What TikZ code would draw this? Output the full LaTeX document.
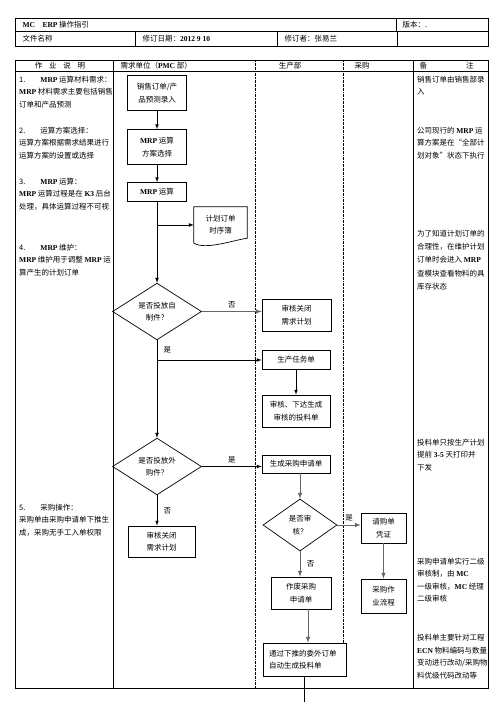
\documentclass[tikz,border=0pt]{standalone}
\usepackage{fontspec}
\setmainfont{Noto Sans CJK SC}
\newfontfamily\latinfont{Liberation Serif}
\usepackage{tikz}
\usetikzlibrary{arrows}
\usetikzlibrary{shapes.geometric,calc}

\newcommand{\en}[1]{{\latinfont\bfseries #1}}

\tikzset{
  box/.style={draw, line width=0.7pt, align=center, inner sep=0pt},
  dia/.style={draw, diamond, line width=0.7pt, align=center, inner sep=0pt},
  flow/.style={->, line width=0.7pt},
  flowg/.style={->, line width=1pt, draw=black!60},
  lane/.style={line width=0.6pt, dash pattern=on 2pt off 0.8pt on 0.6pt off 0.8pt},
  para/.style={anchor=north west, align=left, inner sep=0pt}
}

\begin{document}
\begin{tikzpicture}[x=1pt, y=-1pt, >=latex, font=\fontsize{7.5}{12.3}\selectfont]
        \useasboundingbox (0,0) rectangle (496,702);

        % header of the sheet
        \draw[line width=0.7pt] (15,18) rectangle (488,46);
        \draw (15,31) -- (488,31);
        \draw (396,18) -- (396,31);
        \draw (135,31) -- (135,46);
        \draw (277,31) -- (277,46);
        \draw (397,31) -- (397,46);
        \node[anchor=west] (title) at (19,25) {\en{MC\quad ERP} 操作指引};
        \node[anchor=west] (ver) at (399,25) {版本：.};
        \node[anchor=west] (fname) at (19,38.5) {文件名称};
        \node[anchor=west] (date) at (139,38.5) {修订日期：\en{2012 9 10}};
        \node[anchor=west] (editor) at (281,38.5) {修订者：张易兰};

        % main table
        \draw[line width=0.8pt] (15,60) rectangle (488,688);
        \draw (15,71) -- (488,71);
        \draw (113,60) -- (113,688);
        \draw (413,60) -- (413,688);
        \draw[lane] (255,60) -- (255,688);
        \draw[lane] (343,60) -- (343,643);

        \node (hdesc) at (60,65.5) {作\hspace{0.9em}业\hspace{0.9em}说\hspace{0.9em}明};
        \node[anchor=west] (hpmc) at (117,65.5) {需求单位（\en{PMC} 部）};
        \node (hprod) at (290,65.5) {生产部};
        \node (hbuy) at (362,65.5) {采购};
        \node (hnote) at (446.5,65.5) {备\hspace{5.2em}注};

        % left column
        \node[para] (s1) at (19,76) {1.\hspace{2em}\en{MRP} 运算材料需求：\\\en{MRP} 材料需求主要包括销售\\订单和产品预测};
        \node[para] (s2) at (19,127) {2.\hspace{2em}运算方案选择：\\运算方案根据需求结果进行\\运算方案的设置或选择};
        \node[para] (s3) at (19,178) {3.\hspace{2em}\en{MRP} 运算：\\\en{MRP} 运算过程是在 \en{K3} 后台\\处理，具体运算过程不可视};
        \node[para] (s4) at (19,244) {4.\hspace{2em}\en{MRP} 维护：\\\en{MRP} 维护用于调整 \en{MRP} 运\\算产生的计划订单};
        \node[para] (s5) at (19,504) {5.\hspace{2em}采购操作：\\采购单由采购申请单下推生\\成，采购无手工入单权限};

        % remarks
        \node[para] (r1) at (417,76) {销售订单由销售部录\\入};
        \node[para] (r2) at (417,127) {公司现行的 \en{MRP} 运\\算方案是在“全部计\\划对象”状态下执行};
        \node[para,font=\fontsize{7.5}{13.2}\selectfont] (r3) at (417,230) {为了知道计划订单的\\合理性，在维护计划\\订单时会进入 \en{MRP}\\查模块查看物料的具\\库存状态};
        \node[para] (r4) at (417,439) {投料单只按生产计划\\提前 \en{3-5} 天打印并\\下发};
        \node[para] (r5) at (417,558) {采购申请单实行二级\\审核制，由 \en{MC}\\一级审核，\en{MC} 经理\\二级审核};
        \node[para,font=\fontsize{7.5}{12.7}\selectfont] (r6) at (417,634) {投料单主要针对工程\\\en{ECN} 物料编码与数量\\变动进行改动/采购物\\料优级代码改动等};

        % PMC lane
        \node[box, minimum width=59, minimum height=35] (order) at (157,93) {销售订单/产\\品预测录入};
        \node[box, minimum width=59, minimum height=35] (plan) at (157,147) {\en{MRP} 运算\\方案选择};
        \node[box, minimum width=59, minimum height=19] (mrp) at (157,192) {\en{MRP} 运算};
        \node[minimum width=53, minimum height=36, align=center, inner sep=0pt] (sched) at (220.5,225) {计划订单\\时序簿};
        \draw[line width=0.7pt] (sched.south west) -- (sched.north west) -- (sched.north east)
          -- ($(sched.south east)+(0,-5)$) .. controls +(-14,2) and +(12,7) .. (sched.south west);
        \node[dia, minimum width=89, minimum height=51] (self) at (157,311.5) {是否投放自\\制件？};
        \node[dia, minimum width=89, minimum height=51] (buy) at (157,466.5) {是否投放外\\购件？};
        \node[box, minimum width=67, minimum height=31] (closeB) at (161.5,541.5) {审核关闭\\需求计划};

        % production lane
        \node[box, minimum width=69, minimum height=32] (closeA) at (296.5,315) {审核关闭\\需求计划};
        \node[box, minimum width=68, minimum height=19] (task) at (296,360) {生产任务单};
        \node[box, minimum width=68, minimum height=32] (issue) at (296,411) {审核、下达生成\\审核的投料单};
        \node[box, minimum width=68, minimum height=18] (req) at (296,464) {生成采购申请单};
        \node[dia, minimum width=74, minimum height=52] (audit) at (300,525) {是否审\\核？};
        \node[box, minimum width=60, minimum height=32] (void) at (301,593) {作废采购\\申请单};
        \node[box, minimum width=83, minimum height=33, align=left, text width=71] (feed) at (304.5,659.5) {通过下推的委外订单\\自动生成投料单};
        \coordinate (exit) at (304.5,702);

        % purchase lane
        \node[box, minimum width=45, minimum height=30] (voucher) at (383.5,528) {请购单\\凭证};
        \node[box, minimum width=45, minimum height=34] (proc) at (383.5,596) {采购作\\业流程};

        % connectors
        \coordinate (fork1) at (mrp.south |- sched.west);
        \coordinate (fork2) at (self.south |- task.west);
        \draw[flow] (order) -- (plan);
        \draw[flow] (plan) -- (mrp);
        \draw[flow] (mrp) -- (self);
        \draw[flow] (fork1) -- (sched.west);
        \draw[flowg] (self.east) -- node[above] {否} (self.east -| closeA.west);
        \draw[flow] (self) -- node[right, pos=0.1, xshift=3pt] {是} (buy);
        \draw[flow] (fork2) -- (task.west);
        \draw[flow] (task) -- (issue);
        \draw[flow] (buy.east) -- node[above] {是} (buy.east -| req.west);
        \draw[flow] (buy.south) -- node[right, xshift=3pt] {否} (buy.south |- closeB.north);
        \draw[flowg] (req.south -| audit.north) -- (audit.north);
        \draw[flowg] (audit.east) -- node[above] {是} (audit.east -| voucher.west);
        \draw[flowg] (voucher) -- (proc);
        \draw[flowg] (audit.south) -- node[right, xshift=3pt] {否} (audit.south |- void.north);
        \draw[flowg] (void.south -| 308,0) -- (308,0 |- feed.north);
        \draw[line width=0.7pt] (feed.south -| exit) -- (exit);
\end{tikzpicture}
\end{document}
